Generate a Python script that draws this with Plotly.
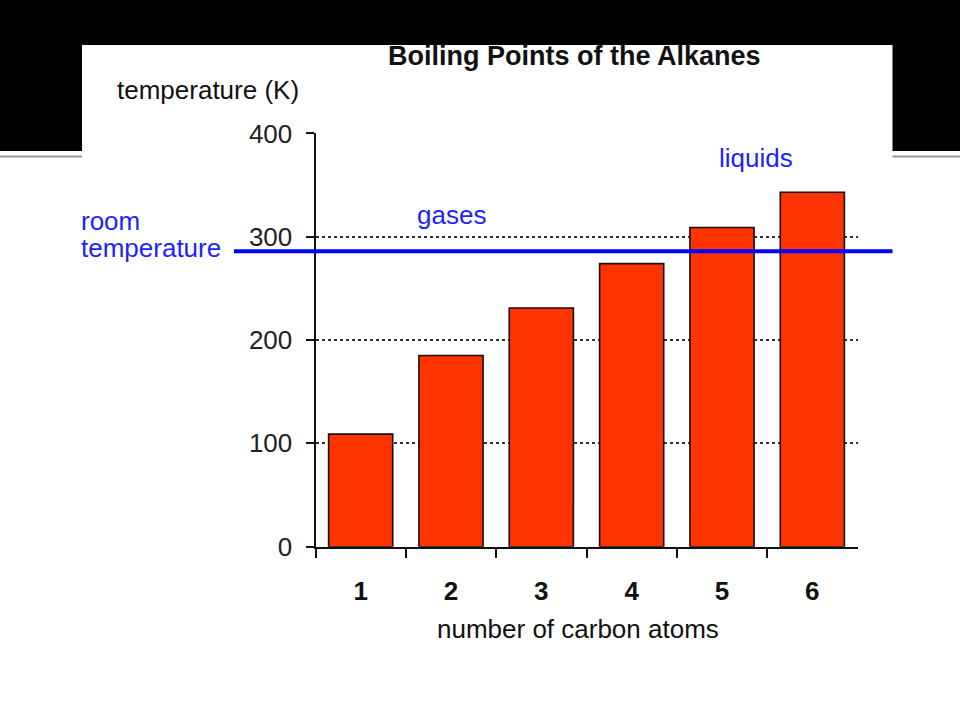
import plotly.graph_objects as go

# Data
carbon_atoms = ["1", "2", "3", "4", "5", "6"]
boiling_points_k = [109, 185, 231, 274, 309, 343]
room_temperature_k = 286
y_tick_values = [0, 100, 200, 300, 400]

W, H = 960, 720
FONT = "Liberation Sans, Arial, sans-serif"
BLUE = "#1f1fff"

def px(x):
    return x / W

def py(y):
    return 1 - y / H

fig = go.Figure()
fig.add_trace(go.Bar(
    x=carbon_atoms,
    y=boiling_points_k,
    marker=dict(color="#ff3300", line=dict(color="#111111", width=1.6)),
    showlegend=False,
    hoverinfo="x+y",
))

shapes = [
    # slide background: black band, white chart panel, grey rule
    dict(type="rect", xref="paper", yref="paper", x0=0, x1=1, y0=py(151), y1=1,
         fillcolor="black", line=dict(width=0), layer="below"),
    dict(type="line", xref="paper", yref="paper", x0=0, x1=1, y0=py(156.5), y1=py(156.5),
         line=dict(color="#9a9a9a", width=2), layer="below"),
    dict(type="rect", xref="paper", yref="paper", x0=px(82), x1=px(892.5), y0=0, y1=py(45),
         fillcolor="white", line=dict(width=0), layer="below"),
    # room temperature line
    dict(type="line", xref="paper", yref="y", x0=px(234), x1=px(892.5),
         y0=room_temperature_k, y1=room_temperature_k,
         line=dict(color="#0000ff", width=4), layer="above"),
]

ann = []
def add_text(text, x, y, xanchor="center", color="#111111", size=26, weight="normal"):
    ann.append(dict(text=text, xref="paper", yref="paper", x=px(x), y=py(y),
                    xanchor=xanchor, yanchor="middle", showarrow=False,
                    font=dict(family=FONT, size=size, color=color, weight=weight)))

add_text("Boiling Points of the Alkanes", 574, 56, size=27, weight="bold")
add_text("temperature (K)", 115, 90, xanchor="left")
add_text("number of carbon atoms", 578, 629)
add_text("room", 79, 221, xanchor="left", color=BLUE)
add_text("temperature", 79, 248, xanchor="left", color=BLUE)
add_text("gases", 451.5, 215, color=BLUE)
add_text("liquids", 755.5, 158, color=BLUE)

fig.update_layout(
    width=W, height=H,
    margin=dict(l=0, r=0, t=0, b=0),
    paper_bgcolor="white",
    plot_bgcolor="rgba(0,0,0,0)",
    bargap=0.29,
    shapes=shapes,
    annotations=ann,
    xaxis=dict(
        type="category",
        domain=[px(315.5), px(857.5)],
        automargin=False,
        showline=True, linecolor="#111111", linewidth=2,
        ticks="outside", tickson="boundaries", ticklen=9, tickwidth=2, tickcolor="#111111",
        tickfont=dict(family=FONT, size=26, color="#111111", weight="bold"),
        ticklabelstandoff=20,
        showgrid=False, zeroline=False, fixedrange=True,
    ),
    yaxis=dict(
        range=[0, 400],
        domain=[py(546.7), py(133.4)],
        automargin=False,
        tickvals=y_tick_values,
        showline=True, linecolor="#111111", linewidth=2,
        ticks="outside", ticklen=8, tickwidth=2, tickcolor="#111111",
        tickfont=dict(family=FONT, size=26, color="#222222"),
        ticklabelstandoff=8,
        showgrid=True, gridcolor="#333333", gridwidth=1.5, griddash="dot",
        zeroline=False, fixedrange=True,
    ),
)

fig.write_html(
    "out.html",
    config={"displayModeBar": False},
    post_script="document.body.style.margin='0';document.body.style.overflow='hidden';",
)
